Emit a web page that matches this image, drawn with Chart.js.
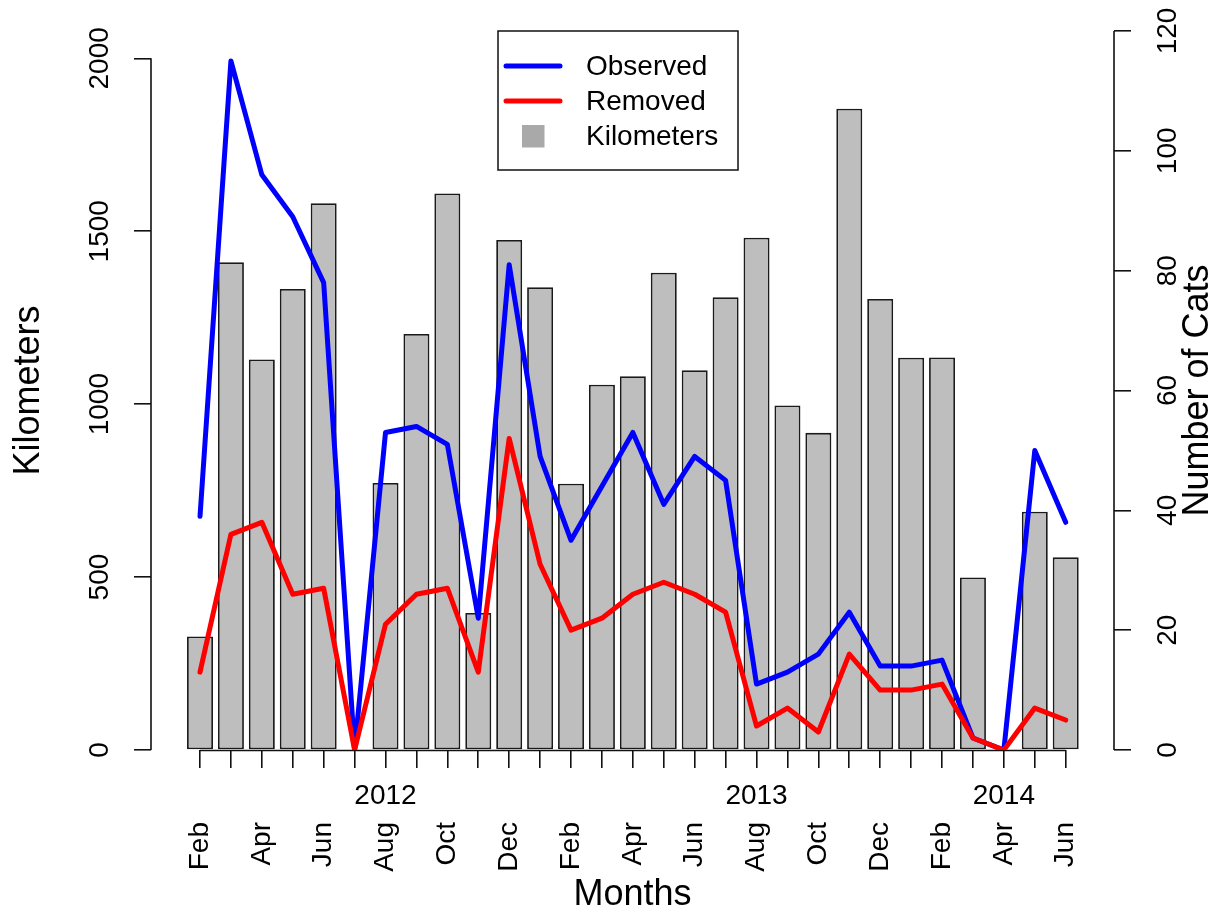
<!DOCTYPE html>
<html>
<head>
<meta charset="utf-8">
<script src="https://cdn.jsdelivr.net/npm/chart.js@4"></script>
<style>
  html, body { margin: 0; padding: 0; background: #fff; }
  #wrap { width: 1220px; height: 917px; }
</style>
</head>
<body>
<div id="wrap"><canvas id="c" width="1220" height="917"></canvas></div>
<script>
// Monthly survey effort and cat counts, Feb 2012 – Jun 2014
const months = ['Feb','Mar','Apr','May','Jun','Jul','Aug','Sep','Oct','Nov','Dec','Jan',
                'Feb','Mar','Apr','May','Jun','Jul','Aug','Sep','Oct','Nov','Dec','Jan',
                'Feb','Mar','Apr','May','Jun'];
const kilometers = [328,1410,1129,1333,1581,0,772,1203,1609,396,1475,1338,
                    770,1056,1081,1380,1098,1309,1481,996,917,1854,1304,1134,
                    1135,499,0,689,557];
const observed = [39,115,96,89,78,0,53,54,51,22,81,49,
                  35,44,53,41,49,45,11,13,16,23,14,14,
                  15,2,0,50,38];
const removed = [13,36,38,26,27,0,21,26,27,13,52,31,
                 20,22,26,28,26,23,4,7,3,16,10,10,
                 11,2,0,7,5];

// Axis tick labels
const kmTicks = [0, 500, 1000, 1500, 2000];
const catTicks = [0, 20, 40, 60, 80, 100, 120];
const yearLabels = ['2012', '2013', '2014'];
const yearMonthIndex = [6, 18, 26];

const FONT = "'Liberation Sans', Arial, Helvetica, sans-serif";
Chart.defaults.font.family = FONT;
Chart.defaults.color = '#000';

const AXIS_COLOR = '#111';
const TICK_FONT = { family: FONT, size: 28 };
const TITLE_FONT = { family: FONT, size: 36 };

const toPoints = vals => vals.map((v, i) => ({ x: i, y: v }));
const monthTicks = () => months.map((_, i) => ({ value: i }));

// R-style axis lines: only span from first to last tick
const rAxisLines = {
  id: 'rAxisLines',
  beforeDatasetsDraw(chart) {
    const { ctx, chartArea: a, scales: { x, y, y1 } } = chart;
    ctx.save();
    ctx.strokeStyle = AXIS_COLOR;
    ctx.lineWidth = 1.6;
    ctx.beginPath();
    ctx.moveTo(x.getPixelForValue(0), a.bottom + 0.5);
    ctx.lineTo(x.getPixelForValue(months.length - 1), a.bottom + 0.5);
    ctx.moveTo(a.left, y.getPixelForValue(kmTicks[0]));
    ctx.lineTo(a.left, y.getPixelForValue(kmTicks[kmTicks.length - 1]));
    ctx.moveTo(a.right, y1.getPixelForValue(catTicks[0]));
    ctx.lineTo(a.right, y1.getPixelForValue(catTicks[catTicks.length - 1]));
    ctx.stroke();
    ctx.restore();
  }
};

// Boxed legend inside the plot and the right-hand axis title
const boxLegend = {
  id: 'boxLegend',
  afterDraw(chart) {
    const { ctx, chartArea: a } = chart;
    const ds = chart.data.datasets;
    const left = a.left + 347, top = a.top, w = 240, h = 139;
    ctx.save();
    ctx.strokeStyle = AXIS_COLOR;
    ctx.lineWidth = 1.5;
    ctx.strokeRect(left, top, w, h);
    const rows = [ds[1], ds[0], ds[2]]; // Observed, Removed, Kilometers
    ctx.font = `${TICK_FONT.size}px ${FONT}`;
    ctx.textBaseline = 'middle';
    ctx.textAlign = 'left';
    rows.forEach((d, i) => {
      const cy = top + 35 + i * 35;
      if (d.type === 'line') {
        ctx.strokeStyle = d.borderColor;
        ctx.lineWidth = d.borderWidth;
        ctx.lineCap = 'round';
        ctx.beginPath();
        ctx.moveTo(left + 8, cy);
        ctx.lineTo(left + 62, cy);
        ctx.stroke();
      } else {
        ctx.fillStyle = '#a9a9a9';
        ctx.fillRect(left + 24, cy - 11, 22.5, 22.5);
      }
      ctx.fillStyle = '#000';
      ctx.fillText(d.label, left + 88, cy + 1);
    });

    // right axis title, reading bottom to top
    ctx.save();
    ctx.translate(1198, (a.top + a.bottom) / 2);
    ctx.rotate(-Math.PI / 2);
    ctx.font = `${TITLE_FONT.size}px ${FONT}`;
    ctx.textAlign = 'center';
    ctx.textBaseline = 'middle';
    ctx.fillStyle = '#000';
    ctx.fillText('Number of Cats', 0, 0);
    ctx.restore();
    ctx.restore();
  }
};

const tickGrid = (len) => ({
  display: true, drawOnChartArea: false, drawTicks: true, offset: false,
  tickLength: len, color: AXIS_COLOR, lineWidth: 1.6
});

// keep the plot area fixed: rotated tick labels need no extra room
const noLabelOverflow = s => { s.paddingTop = 0; s.paddingBottom = 0; };

new Chart(document.getElementById('c'), {
  data: {
    datasets: [
      {
        type: 'line', label: 'Removed', data: toPoints(removed), yAxisID: 'y1',
        borderColor: '#ff0000', borderWidth: 5, pointRadius: 0, tension: 0,
        borderCapStyle: 'round', borderJoinStyle: 'round', order: 0
      },
      {
        type: 'line', label: 'Observed', data: toPoints(observed), yAxisID: 'y1',
        borderColor: '#0000ff', borderWidth: 5, pointRadius: 0, tension: 0,
        borderCapStyle: 'round', borderJoinStyle: 'round', order: 1
      },
      {
        type: 'bar', label: 'Kilometers', data: toPoints(kilometers), yAxisID: 'y',
        backgroundColor: '#bebebe', borderColor: '#1a1a1a', borderWidth: 1.8,
        borderSkipped: false, barPercentage: 0.84, categoryPercentage: 1, order: 2
      }
    ]
  },
  options: {
    responsive: false,
    animation: false,
    devicePixelRatio: 1,
    layout: { padding: { top: 31, left: 0, right: 0, bottom: 0 } },
    plugins: { legend: { display: false }, tooltip: { enabled: false } },
    scales: {
      x: {
        type: 'linear', position: 'bottom', weight: 0, offset: false,
        min: -1.585, max: months.length - 1 + 1.562,
        afterBuildTicks: s => { s.ticks = monthTicks(); },
        afterFit: s => { s.height = 60; },
        grid: tickGrid(18),
        border: { display: false },
        ticks: {
          autoSkip: false, maxRotation: 0, minRotation: 0, padding: 11,
          font: TICK_FONT, color: '#000',
          callback: v => {
            const k = yearMonthIndex.indexOf(v);
            return k >= 0 ? yearLabels[k] : '';
          }
        }
      },
      x2: {
        type: 'linear', position: 'bottom', weight: 1, offset: false,
        min: -1.585, max: months.length - 1 + 1.562,
        afterBuildTicks: s => { s.ticks = monthTicks(); },
        afterFit: s => { s.height = 107; },
        grid: { display: false, drawTicks: false },
        border: { display: false },
        ticks: {
          autoSkip: false, maxRotation: 90, minRotation: 90, padding: 12,
          font: TICK_FONT, color: '#000',
          callback: v => (v % 2 === 0 ? months[v] : '')
        },
        title: { display: true, text: 'Months', font: TITLE_FONT, color: '#000', padding: { top: 0, bottom: 0 } }
      },
      y: {
        type: 'linear', position: 'left',
        min: 0, max: 2079,
        afterBuildTicks: s => { s.ticks = kmTicks.map(v => ({ value: v })); },
        afterFit: s => { s.width = 151; noLabelOverflow(s); },
        grid: tickGrid(17),
        border: { display: false },
        ticks: {
          minRotation: 90, maxRotation: 90, crossAlign: 'center', padding: 3,
          font: TICK_FONT, color: '#000',
          callback: v => String(v)
        },
        title: { display: true, text: 'Kilometers', font: TITLE_FONT, color: '#000', padding: { top: 7, bottom: 0 } }
      },
      y1: {
        type: 'linear', position: 'right',
        min: 0, max: 120,
        afterBuildTicks: s => { s.ticks = catTicks.map(v => ({ value: v })); },
        afterFit: s => { s.width = 106; noLabelOverflow(s); },
        grid: tickGrid(17),
        border: { display: false },
        ticks: {
          minRotation: 90, maxRotation: 90, crossAlign: 'center', padding: 14,
          font: TICK_FONT, color: '#000',
          callback: v => String(v)
        }
      }
    }
  },
  plugins: [rAxisLines, boxLegend]
});
</script>
</body>
</html>
